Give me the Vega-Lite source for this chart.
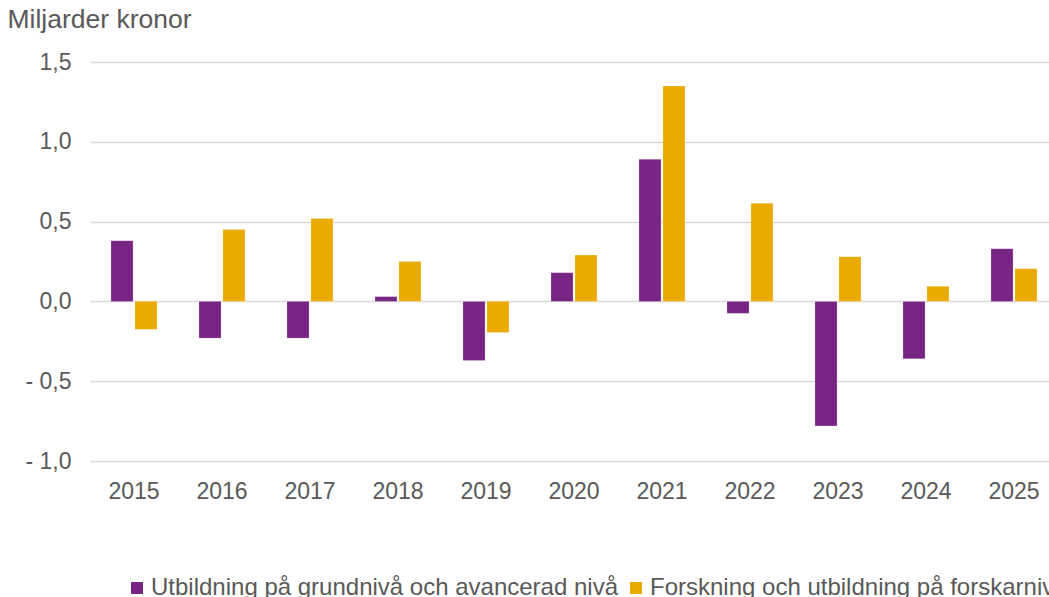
{
  "$schema": "https://vega.github.io/schema/vega-lite/v6.json",
  "autosize": "none",
  "padding": {"left": 90, "top": 62, "right": 0, "bottom": 136},
  "width": 968,
  "height": 399,
  "background": "white",
  "config": {
    "view": {"stroke": null},
    "font": "Liberation Sans",
    "axis": {"labelFont": "Liberation Sans", "titleFont": "Liberation Sans"},
    "legend": {"labelFont": "Liberation Sans"}
  },
  "data": {
    "values": [
      {"year": "2015", "serie": "Utbildning på grundnivå och avancerad nivå", "value": 0.38},
      {"year": "2015", "serie": "Forskning och utbildning på forskarnivå", "value": -0.175},
      {"year": "2016", "serie": "Utbildning på grundnivå och avancerad nivå", "value": -0.23},
      {"year": "2016", "serie": "Forskning och utbildning på forskarnivå", "value": 0.45},
      {"year": "2017", "serie": "Utbildning på grundnivå och avancerad nivå", "value": -0.23},
      {"year": "2017", "serie": "Forskning och utbildning på forskarnivå", "value": 0.52},
      {"year": "2018", "serie": "Utbildning på grundnivå och avancerad nivå", "value": 0.03},
      {"year": "2018", "serie": "Forskning och utbildning på forskarnivå", "value": 0.25},
      {"year": "2019", "serie": "Utbildning på grundnivå och avancerad nivå", "value": -0.37},
      {"year": "2019", "serie": "Forskning och utbildning på forskarnivå", "value": -0.195},
      {"year": "2020", "serie": "Utbildning på grundnivå och avancerad nivå", "value": 0.18},
      {"year": "2020", "serie": "Forskning och utbildning på forskarnivå", "value": 0.29},
      {"year": "2021", "serie": "Utbildning på grundnivå och avancerad nivå", "value": 0.89},
      {"year": "2021", "serie": "Forskning och utbildning på forskarnivå", "value": 1.35},
      {"year": "2022", "serie": "Utbildning på grundnivå och avancerad nivå", "value": -0.075},
      {"year": "2022", "serie": "Forskning och utbildning på forskarnivå", "value": 0.615},
      {"year": "2023", "serie": "Utbildning på grundnivå och avancerad nivå", "value": -0.78},
      {"year": "2023", "serie": "Forskning och utbildning på forskarnivå", "value": 0.28},
      {"year": "2024", "serie": "Utbildning på grundnivå och avancerad nivå", "value": -0.36},
      {"year": "2024", "serie": "Forskning och utbildning på forskarnivå", "value": 0.095},
      {"year": "2025", "serie": "Utbildning på grundnivå och avancerad nivå", "value": 0.33},
      {"year": "2025", "serie": "Forskning och utbildning på forskarnivå", "value": 0.205}
    ]
  },
  "mark": {"type": "bar", "stroke": "white", "strokeOpacity": 0.4, "strokeWidth": 0.5},
  "encoding": {
    "x": {
      "field": "year", "type": "nominal", "sort": null,
      "scale": {"paddingInner": 0.477, "paddingOuter": 0.2385},
      "axis": {
        "title": null, "domain": false, "ticks": false, "grid": false,
        "labelAngle": 0, "labelFontSize": 23, "labelColor": "#595959",
        "labelPadding": 19, "labelBaseline": "top"
      }
    },
    "xOffset": {
      "field": "serie", "type": "nominal",
      "sort": ["Utbildning på grundnivå och avancerad nivå", "Forskning och utbildning på forskarnivå"],
      "scale": {"paddingInner": 0.08, "paddingOuter": 0}
    },
    "y": {
      "field": "value", "type": "quantitative",
      "scale": {"domain": [-1, 1.5], "nice": false, "zero": false},
      "axis": {
        "values": [-1, -0.5, 0, 0.5, 1, 1.5],
        "labelExpr": "(datum.value < 0 ? '- ' : '') + replace(format(abs(datum.value), '.1f'), '.', ',')",
        "domain": false, "ticks": false,
        "grid": true, "gridColor": "#d9d9d9", "gridWidth": 1.5,
        "labelFontSize": 23, "labelColor": "#595959", "labelPadding": 19,
        "title": "Miljarder kronor", "titleAngle": 0, "titleAlign": "left",
        "titleBaseline": "alphabetic", "titleX": -83, "titleY": -35,
        "titleFontSize": 26.5, "titleFontWeight": "normal", "titleColor": "#595959"
      }
    },
    "color": {
      "field": "serie", "type": "nominal",
      "scale": {
        "domain": ["Utbildning på grundnivå och avancerad nivå", "Forskning och utbildning på forskarnivå"],
        "range": ["#772583", "#EAAB00"]
      },
      "legend": {
        "title": null, "orient": "none", "direction": "horizontal",
        "legendX": 35, "legendY": 514,
        "symbolType": "square", "symbolSize": 144, "symbolStrokeWidth": 0,
        "labelFontSize": 24, "labelColor": "#595959", "labelOffset": 2,
        "columnPadding": 6, "labelLimit": 800
      }
    }
  }
}
